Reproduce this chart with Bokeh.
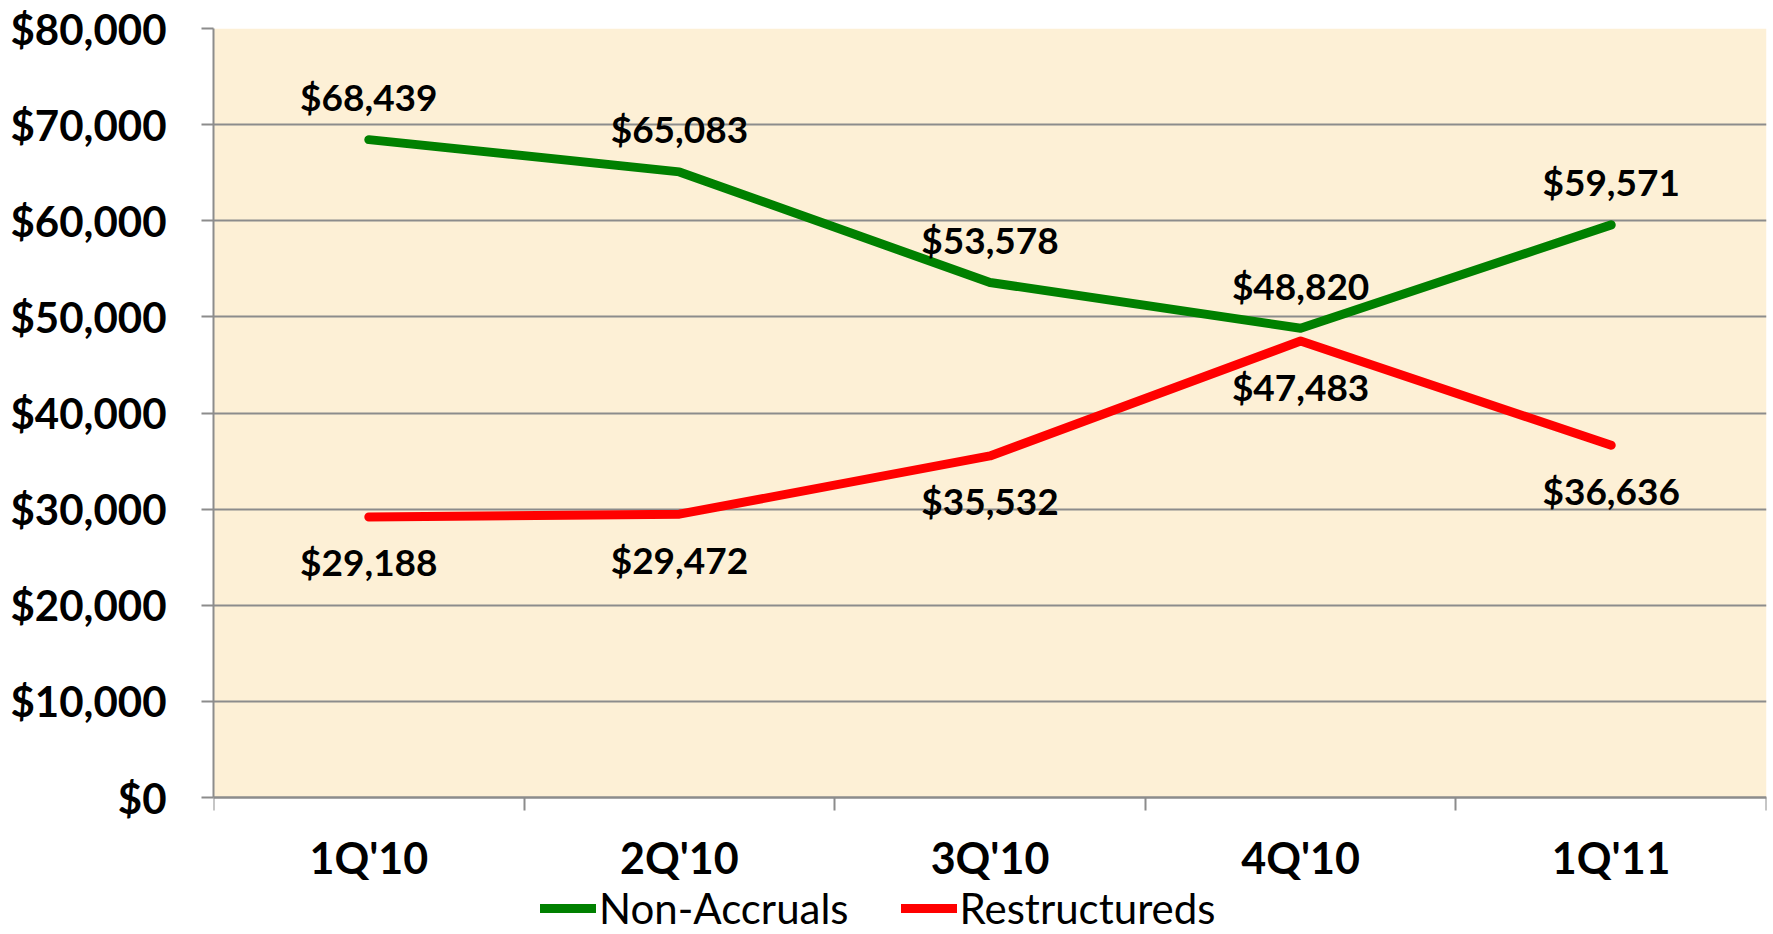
from bokeh.plotting import figure
from bokeh.models import (Range1d, FixedTicker, NumeralTickFormatter, Legend,
                          LegendItem, ColumnDataSource, BoxAnnotation)
from bokeh.core.properties import value
from bokeh.embed import file_html
from bokeh.resources import INLINE

quarters = ["1Q'10", "2Q'10", "3Q'10", "4Q'10", "1Q'11"]
non_accruals = [68439, 65083, 53578, 48820, 59571]
restructureds = [29188, 29472, 35532, 47483, 36636]
y_ticks = [0, 10000, 20000, 30000, 40000, 50000, 60000, 70000, 80000]

FONT = "Lato"
GRID = "#8C8C8C"
CREAM = "#FDF0D6"

# layout (pixels)
W, H = 1770, 934
LEFT, TOP, RIGHT = 213, 28, 4
PLOT_H = 769            # height of the value area (0 .. 80000)
EXTRA = H - TOP - PLOT_H  # room below the value area for labels and legend

y_max = y_ticks[-1]
y_min = -y_max * EXTRA / PLOT_H

xs = [i + 0.5 for i in range(len(quarters))]
src = ColumnDataSource(dict(
    x=xs,
    na=non_accruals,
    rs=restructureds,
    na_lbl=["${:,}".format(v) for v in non_accruals],
    rs_lbl=["${:,}".format(v) for v in restructureds],
))

p = figure(width=W, height=H, output_backend="svg", toolbar_location=None,
           x_range=Range1d(0, len(quarters)), y_range=Range1d(y_min, y_max),
           min_border_left=LEFT, min_border_right=RIGHT, min_border_top=TOP,
           min_border_bottom=0)
p.background_fill_color = "white"
p.border_fill_color = "white"
p.outline_line_color = None

p.add_layout(BoxAnnotation(bottom=y_ticks[0], top=y_ticks[-1], fill_color=CREAM,
                           fill_alpha=1, line_color=None, level="image"))

# grid
p.xgrid.grid_line_color = None
p.ygrid.grid_line_color = GRID
p.ygrid.grid_line_width = 2
p.ygrid.ticker = FixedTicker(ticks=y_ticks)

# y axis
ya = p.yaxis[0]
ya.ticker = FixedTicker(ticks=y_ticks)
ya.bounds = (y_ticks[0], y_ticks[-1])
ya.formatter = NumeralTickFormatter(format="$0,0")
ya.axis_line_color = GRID
ya.axis_line_width = 2
ya.major_tick_line_color = GRID
ya.major_tick_line_width = 2
ya.major_tick_out = 12
ya.major_tick_in = 0
ya.minor_tick_line_color = None
ya.major_label_standoff = 35
ya.major_label_text_font = FONT
ya.major_label_text_font_style = "bold"
ya.major_label_text_font_size = "42px"
ya.major_label_text_color = "black"

# x axis (drawn at value 0)
xa = p.xaxis[0]
xa.fixed_location = 0
xa.ticker = FixedTicker(ticks=xs, minor_ticks=list(range(len(quarters) + 1)))
xa.major_label_overrides = {x: q for x, q in zip(xs, quarters)}
xa.axis_line_color = GRID
xa.axis_line_width = 2
xa.major_tick_line_color = None
xa.major_tick_out = 0
xa.major_tick_in = 0
xa.minor_tick_line_color = GRID
xa.minor_tick_line_width = 2
xa.minor_tick_out = 13
xa.minor_tick_in = 0
xa.major_label_standoff = 21
xa.major_label_text_font = FONT
xa.major_label_text_font_style = "bold"
xa.major_label_text_font_size = "43px"
xa.major_label_text_color = "black"

# lines
g = p.line("x", "na", source=src, line_color="#008000", line_width=9,
           line_join="round", line_cap="round")
r = p.line("x", "rs", source=src, line_color="#FF0000", line_width=9,
           line_join="round", line_cap="round")

# data labels
p.text("x", "na", text="na_lbl", source=src, text_align="center",
       text_baseline="middle", y_offset=-43, text_font=value(FONT),
       text_font_style="bold", text_font_size="37px", text_color="black")
p.text("x", "rs", text="rs_lbl", source=src, text_align="center",
       text_baseline="middle", y_offset=45, text_font=value(FONT),
       text_font_style="bold", text_font_size="37px", text_color="black")

legend = Legend(items=[LegendItem(label="Non-Accruals", renderers=[g]),
                       LegendItem(label="Restructureds", renderers=[r])],
                orientation="horizontal", location=(327, 1),
                padding=0, margin=0, spacing=52, label_standoff=3,
                glyph_width=56, glyph_height=40,
                label_text_font=FONT, label_text_font_size="42px",
                label_text_color="black",
                border_line_color=None, background_fill_alpha=0)
p.add_layout(legend, "center")

open("out.html", "w").write(file_html(p, INLINE))
